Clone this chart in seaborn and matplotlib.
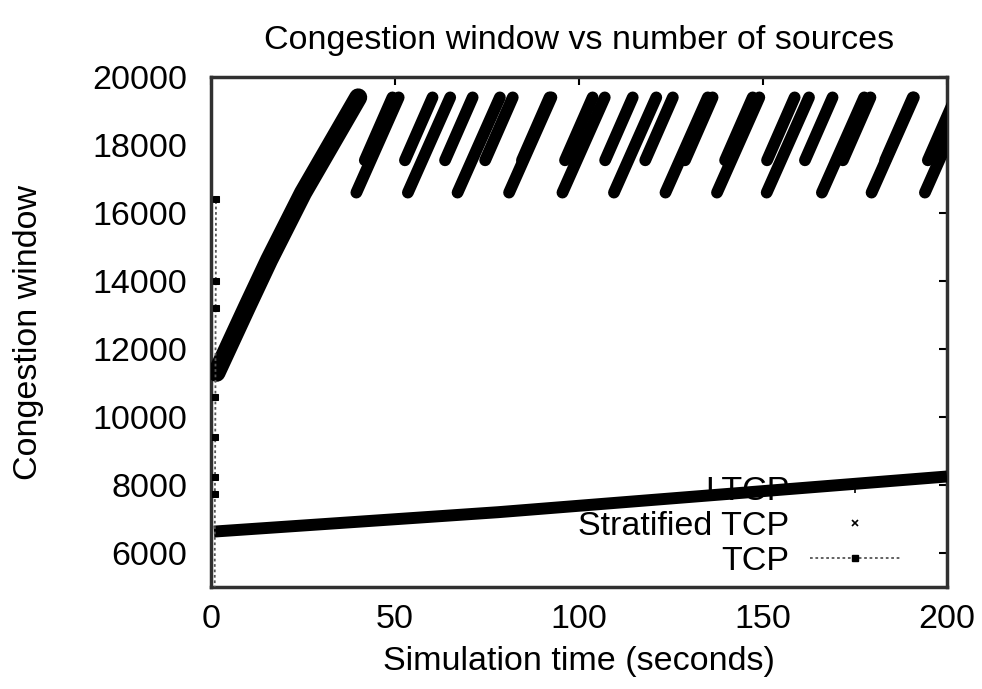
import matplotlib
matplotlib.use("Agg")
import matplotlib.pyplot as plt
from matplotlib.lines import Line2D
import pandas as pd
import seaborn as sns

# ---------------- data ----------------
# LTCP: slow initial ramp, then saw-tooth teeth of two flows
ramp_time = [1.5, 9.8, 15.8, 25.0, 40.0]
ramp_cwnd = [11300, 13240, 14620, 16590, 19400]

low_start_time = [39.5, 53.5, 67.0, 81.0, 95.5, 109.5, 123.5, 137.5, 151.0, 166.0, 179.5, 194.0]
low_end_time = [51.0, 65.0, 78.5, 92.5, 107.0, 121.0, 135.0, 149.0, 162.5, 177.5, 191.0, 205.5]
low_floor = 16600

high_start_time = [41.8, 52.7, 63.6, 74.5, 84.5, 96.2, 107.1, 118.0, 128.8, 139.7,
                   151.1, 161.4, 171.7, 183.2, 194.8]
high_end_time = [49.3, 60.2, 71.1, 82.0, 92.0, 103.7, 114.6, 125.5, 136.3, 147.2,
                 158.6, 168.9, 179.2, 190.7, 202.3]
high_floor = 17550
peak_cwnd = 19400

# Stratified TCP: slowly growing window
strat_time = [0.8, 78.0, 200.0]
strat_cwnd = [6630, 7200, 8250]

# TCP: short burst at the very start
tcp_time = [1.0, 1.05, 1.1, 1.15, 1.2, 1.25, 1.3, 1.35]
tcp_cwnd = [4000, 7750, 8250, 9400, 10600, 13200, 14000, 16400]

series_labels = ["LTCP", "Stratified TCP", "TCP"]
x_ticks = [0, 50, 100, 150, 200]
y_ticks = [6000, 8000, 10000, 12000, 14000, 16000, 18000, 20000]

# ---------------- tables ----------------
ramp_df = pd.DataFrame({"time": ramp_time, "cwnd": ramp_cwnd})
rows = []
k = 0
for s, e in zip(low_start_time, low_end_time):
    rows.append((s, low_floor, k)); rows.append((e, peak_cwnd, k)); k += 1
for s, e in zip(high_start_time, high_end_time):
    rows.append((s, high_floor, k)); rows.append((e, peak_cwnd, k)); k += 1
teeth_df = pd.DataFrame(rows, columns=["time", "cwnd", "tooth"])
strat_df = pd.DataFrame({"time": strat_time, "cwnd": strat_cwnd})
tcp_df = pd.DataFrame({"time": tcp_time, "cwnd": tcp_cwnd})

# ---------------- style ----------------
sns.set_style("white")
plt.rcParams["font.family"] = ["Liberation Sans", "DejaVu Sans"]
plt.rcParams["text.color"] = "black"
plt.rcParams["axes.labelcolor"] = "black"
plt.rcParams["xtick.color"] = "black"
plt.rcParams["ytick.color"] = "black"
FS = 24.5

fig = plt.figure(figsize=(9.82, 6.89), dpi=100)
ax = fig.add_axes([211 / 982, 1 - 587 / 689, 736 / 982, 510 / 689])

sns.lineplot(data=ramp_df, x="time", y="cwnd", color="black", lw=13,
             estimator=None, sort=False, solid_capstyle="round", legend=False, ax=ax, zorder=3)
sns.lineplot(data=teeth_df, x="time", y="cwnd", units="tooth", color="black", lw=8.5,
             estimator=None, solid_capstyle="round", legend=False, ax=ax, zorder=3)
sns.lineplot(data=strat_df, x="time", y="cwnd", color="black", lw=8.6,
             estimator=None, sort=False, solid_capstyle="butt", legend=False, ax=ax, zorder=3)
sns.lineplot(data=tcp_df, x="time", y="cwnd", color="#555555", lw=1.3,
             linestyle=(0, (1.5, 1.5)), marker="s", markersize=5,
             markerfacecolor="black", markeredgecolor="black",
             estimator=None, sort=False, legend=False, ax=ax, zorder=3)

ax.set_xlim(0, 200)
ax.set_ylim(5000, 20000)
ax.set_xticks(x_ticks)
ax.set_yticks(y_ticks)
ax.set_xticklabels([str(v) for v in x_ticks])
ax.set_yticklabels([str(v) for v in y_ticks])

for sp in ax.spines.values():
    sp.set_linewidth(2.5)
    sp.set_color("#303030")
    sp.set_visible(True)
ax.tick_params(direction="in", top=True, right=True, length=6, width=1.5,
               labelsize=FS, colors="black")
ax.tick_params(axis="x", pad=12)
ax.tick_params(axis="y", pad=17)

ax.set_title("Congestion window vs number of sources", fontsize=FS, pad=20, color="black")
ax.set_xlabel("Simulation time (seconds)", fontsize=FS, labelpad=8)
ax.set_ylabel("Congestion window", fontsize=FS)
ax.yaxis.set_label_coords(-0.227, 0.5)

h1 = Line2D([], [], linestyle="none", marker="+", color="black", markersize=7, markeredgewidth=1.2)
h2 = Line2D([], [], linestyle="none", marker="x", color="black", markersize=5, markeredgewidth=1.2)
h3 = Line2D([], [], linestyle=(0, (1.5, 1.5)), color="#555555", lw=1.3, marker="s",
            markersize=5, markerfacecolor="black", markeredgecolor="black")
leg = ax.legend([h1, h2, h3], series_labels, loc="lower right", bbox_to_anchor=(0.936, 0.02),
                frameon=False, markerfirst=False, handlelength=2.65, handletextpad=0.6,
                labelspacing=0.12, borderpad=0, borderaxespad=0, fontsize=FS, numpoints=1)
for t in leg.get_texts():
    t.set_color("black")
leg.set_zorder(1.5)

fig.savefig("out.png", dpi=100)
